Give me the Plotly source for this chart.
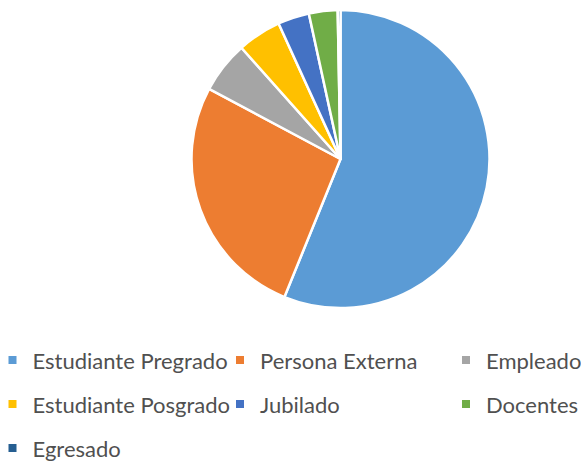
import plotly.graph_objects as go

labels = ["Estudiante Pregrado", "Persona Externa", "Empleado",
          "Estudiante Posgrado", "Jubilado", "Docentes", "Egresado"]
values = [56.0, 26.6, 5.6, 4.75, 3.4, 3.1, 0.3]
colors = ["#5B9BD5", "#ED7D31", "#A5A5A5", "#FFC000", "#4472C4", "#70AD47", "#255E91"]

W, H = 581, 462
FONT = "Lato"
TXT = "#505050"

fig = go.Figure()
fig.add_trace(go.Pie(
    labels=labels, values=values, sort=False, direction="clockwise", rotation=0,
    marker=dict(colors=colors, line=dict(color="white", width=2.5)),
    textinfo="none", showlegend=False,
    domain=dict(x=[191.5 / W, 489.5 / W], y=[1 - 308 / H, 1 - 10 / H]),
))

# legend entries laid out like the Excel legend: rows filled left to right, 3 columns
legend_names = ["legend", "legend2", "legend3"]
for i, (lab, col) in enumerate(zip(labels, colors)):
    fig.add_trace(go.Scatter(
        x=[None], y=[None], mode="markers",
        marker=dict(symbol="square", size=8, color=col),
        name=lab, legend=legend_names[i % 3], legendgroup=lab,
        hoverinfo="skip", showlegend=True,
    ))

leg_common = dict(
    orientation="v", yanchor="top", xanchor="left", y=1 - 339.2 / H,
    font=dict(family=FONT, size=22, color=TXT), indentation=-6,
    tracegroupgap=12.4, bgcolor="rgba(0,0,0,0)", borderwidth=0,
)
fig.update_layout(
    width=W, height=H,
    margin=dict(l=0, r=0, t=0, b=0, autoexpand=False),
    paper_bgcolor="white", plot_bgcolor="white",
    xaxis=dict(visible=False), yaxis=dict(visible=False),
    legend=dict(x=-1.5 / W, **leg_common),
    legend2=dict(x=226 / W, **leg_common),
    legend3=dict(x=452 / W, **leg_common),
)
fig.write_html("out.html")
